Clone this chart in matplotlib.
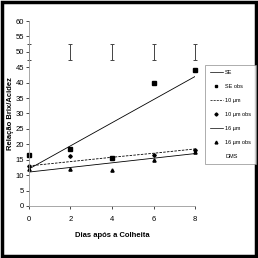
import matplotlib
matplotlib.use('Agg')
import matplotlib.pyplot as plt
from matplotlib.lines import Line2D
import numpy as np

plt.rcParams['font.family'] = ['Liberation Sans Narrow', 'Liberation Sans', 'DejaVu Sans']

# Data
dias = [0, 2, 4, 6, 8]
se_obs = [16.5, 18.5, 15.6, 40.0, 44.0]
se_fit = [12.0, 19.5, 27.0, 34.5, 42.0]
um10_obs = [13.0, 16.2, 15.5, 16.5, 18.0]
um10_fit = [13.0, 14.4, 15.8, 17.1, 18.5]
um16_obs = [12.0, 12.1, 11.7, 15.0, 17.5]
um16_fit = [11.0, 12.5, 14.0, 15.5, 17.0]
dms_centro = [50, 50, 50, 50, 50]
dms_erro = 2.7

fig = plt.figure(figsize=(2.58, 2.58), dpi=100)
ax = fig.add_axes([0.112, 0.2016, 0.644, 0.717])

ax.plot(dias, se_fit, color='black', lw=0.6)
ax.plot(dias, se_obs, 's', color='black', ms=2.5, clip_on=False)
ax.plot(dias, um10_fit, color='black', lw=0.6, ls=(0, (3, 1.5)))
ax.plot(dias, um10_obs, 'D', color='black', ms=1.8, clip_on=False)
ax.plot(dias, um16_fit, color='black', lw=0.6)
ax.plot(dias, um16_obs, '^', color='black', ms=2.3, clip_on=False)
eb = ax.errorbar(dias, dms_centro, yerr=dms_erro, fmt='none', ecolor='#444444',
                 elinewidth=0.7, capsize=1.5, capthick=0.7)
for art in eb.lines[1] + eb.lines[2]:
    art.set_clip_on(False)

ax.set_xlim(0, 8)
ax.set_ylim(0, 60)
ax.set_xticks(dias)
ax.set_yticks(np.arange(0, 61, 5))
ax.tick_params(labelsize=5.5, length=2, width=0.5, colors='black')
ax.tick_params(axis='y', pad=1.5)
ax.tick_params(axis='x', pad=5)
for s in ['top', 'right']:
    ax.spines[s].set_visible(False)
for s in ['left', 'bottom']:
    ax.spines[s].set_color('#999999')
    ax.spines[s].set_linewidth(0.6)
ax.set_ylabel('Relação Brix/Acidez', fontsize=5.5, fontweight='bold')
ax.yaxis.set_label_coords(-0.09, 0.5)
ax.set_xlabel('Dias após a Colheita', fontsize=5.5, fontweight='bold', labelpad=7)

handles = [
    Line2D([], [], color='black', lw=0.5),
    Line2D([], [], ls='none', marker='s', color='black', ms=2),
    Line2D([], [], color='black', lw=0.5, ls=(0, (3, 1.5))),
    Line2D([], [], ls='none', marker='D', color='black', ms=1.6),
    Line2D([], [], color='black', lw=0.5),
    Line2D([], [], ls='none', marker='^', color='black', ms=2),
    Line2D([], [], ls='none'),
]
labels = ['SE', 'SE obs', '10 µm', '10 µm obs', '16 µm', '16 µm obs', 'DMS']
leg = fig.legend(handles, labels, loc='upper left', bbox_to_anchor=(0.782, 0.758),
                 fontsize=4, frameon=True, fancybox=False, handlelength=2.5,
                 labelspacing=1.6, borderpad=0.9, handletextpad=0.3)
leg.get_frame().set_edgecolor('#888888')
leg.get_frame().set_linewidth(0.6)

# black frame around the whole picture
fig.patches.append(plt.Rectangle((0.006, 0.006), 0.988, 0.988, transform=fig.transFigure,
                                 fill=False, edgecolor='black', lw=2.5))

fig.savefig('out.png', dpi=100)
